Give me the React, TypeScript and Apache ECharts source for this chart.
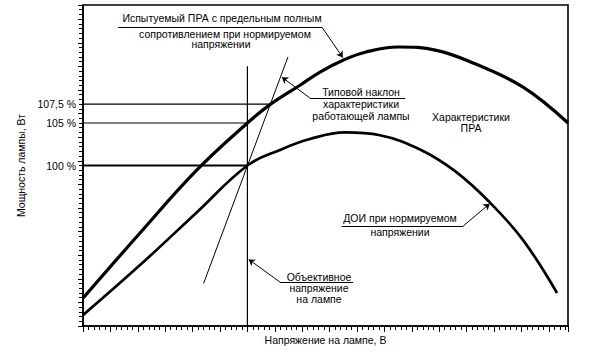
import React, { useEffect, useRef } from "react";
import * as echarts from "echarts";

// Axis extents (arbitrary schematic units; one unit = one minor tick)
const xMax = 88.5;
const yMax = 68;

// Upper curve: tested ballast with limiting impedance at rated voltage
const upperX = [0, 10.4, 20.75, 30, 34.12, 39.6, 43.25, 47.45, 51.5, 57.5, 64.5, 71.2, 80.3, 88.5];
const upperY = [5.9, 19.7, 33.0, 43.0, 46.9, 51.0, 53.8, 56.3, 58.0, 59.1, 58.4, 55.7, 50.6, 43.0];

// Lower curve: reference ballast at rated voltage
const lowerX = [0, 10.4, 20.6, 30, 35.95, 41.4, 47.8, 54.2, 61.5, 67.9, 74.3, 80.3, 86.5];
const lowerY = [2.3, 12.9, 23.9, 34, 37.3, 39.6, 41.0, 40.4, 37.4, 32.8, 26.1, 18.2, 7.0];

// Typical lamp slope line
const slopeX = [22.0, 37.4];
const slopeY = [9.0, 57.0];

// Objective lamp voltage
const objectiveX = 30;
const objectiveTop = 55;

// Power levels
const levelValues = [34, 43, 47];
const levelLabels = ["100 %", "105 %", "107,5 %"];
const levelEnds = [30, 30, 34.2];

// Annotation leader lines: underline start, underline end, arrow tip
const leaderUnder = [
  [[6.4, 63.3], [43.6, 63.3]],
  [[41.4, 48.3], [58.8, 48.3]],
  [[47.2, 21.2], [69.4, 21.2]],
  [[35.95, 9.3], [49.3, 9.3]],
];
const leaderArrow = [
  [[43.6, 63.3], [47.4, 56.9]],
  [[41.4, 48.3], [36.3, 52.7]],
  [[69.4, 21.2], [74.2, 25.9]],
  [[35.95, 9.3], [30.25, 14.1]],
];

const annTested = ["Испытуемый ПРА с предельным полным", "сопротивлением при нормируемом", "напряжении"];
const annSlope = ["Типовой наклон", "характеристики", "работающей лампы"];
const annBallast = ["Характеристики", "ПРА"];
const annLamp = ["ДОИ при нормируемом", "напряжении"];
const annObjective = ["Объективное", "напряжение", "на лампе"];

const xName = "Напряжение на лампе, В";
const yName = "Мощность лампы, Вт";

const FONT = "Liberation Sans, Arial, sans-serif";

function zip(xs: number[], ys: number[]) {
  return xs.map((x, i) => [x, ys[i]]);
}

export default function App() {
  const ref = useRef<HTMLDivElement>(null);

  useEffect(() => {
    if (!ref.current) return;
    const chart = echarts.init(ref.current, null, { renderer: "svg" });

    const textStyle = { fontFamily: FONT, fontSize: 10.5, color: "#000" };

    const mkText = (lines: string[], x: number | number[], ys: number[]) =>
      lines.map((t, i) => ({
        type: "text",
        x: Array.isArray(x) ? x[i] : x,
        y: ys[i],
        silent: true,
        style: {
          text: t,
          fill: "#000",
          font: `10.5px ${FONT}`,
          align: "center",
          verticalAlign: "middle",
          textAlign: "center",
          textVerticalAlign: "middle",
        },
      }));

    const blackLine = (w: number) => ({ color: "#000", width: w });

    const option: any = {
      animation: false,
      backgroundColor: "#fff",
      grid: {
        left: 83,
        right: 22,
        top: 5,
        bottom: 31,
        show: true,
        borderColor: "#000",
        borderWidth: 1.6,
        backgroundColor: "transparent",
      },
      xAxis: {
        type: "value",
        min: 0,
        max: xMax,
        interval: 5,
        name: xName,
        nameLocation: "middle",
        nameGap: 8,
        nameTextStyle: textStyle,
        axisLine: { lineStyle: blackLine(1.5) },
        axisTick: { length: 6, lineStyle: blackLine(1) },
        minorTick: { show: true, splitNumber: 5, length: 4, lineStyle: blackLine(1) },
        axisLabel: { show: false },
        splitLine: { show: false },
      },
      yAxis: {
        type: "value",
        min: 0,
        max: yMax,
        interval: 5,
        name: yName,
        nameLocation: "middle",
        nameGap: 46,
        nameTextStyle: textStyle,
        axisLine: { lineStyle: blackLine(1.5) },
        axisTick: { length: 5, lineStyle: blackLine(1) },
        minorTick: { show: true, splitNumber: 5, length: 4, lineStyle: blackLine(1) },
        axisLabel: {
          ...textStyle,
          margin: 7,
          customValues: levelValues,
          formatter: (v: number) => {
            const i = levelValues.indexOf(v);
            return i >= 0 ? levelLabels[i] : "";
          },
        },
        splitLine: { show: false },
      },
      series: [
        {
          type: "line",
          data: zip(upperX, upperY),
          smooth: 0.4,
          symbol: "none",
          lineStyle: blackLine(3.2),
          silent: true,
        },
        {
          type: "line",
          data: zip(lowerX, lowerY),
          smooth: 0.4,
          symbol: "none",
          lineStyle: blackLine(2.7),
          silent: true,
        },
        {
          type: "line",
          data: zip(slopeX, slopeY),
          symbol: "none",
          lineStyle: blackLine(1),
          silent: true,
        },
        {
          type: "line",
          data: [
            [objectiveX, 0],
            [objectiveX, objectiveTop],
          ],
          symbol: "none",
          lineStyle: blackLine(1.2),
          silent: true,
        },
        ...levelValues.map((v, i) => ({
          type: "line",
          data: [
            [0, v],
            [levelEnds[i], v],
          ],
          symbol: "none",
          lineStyle: blackLine(i === 0 ? 1.8 : 1.1),
          silent: true,
        })),
        {
          type: "lines",
          coordinateSystem: "cartesian2d",
          data: leaderUnder.map((c) => ({ coords: c })),
          symbol: "none",
          lineStyle: { color: "#000", width: 1, opacity: 1 },
          silent: true,
        },
        {
          type: "lines",
          coordinateSystem: "cartesian2d",
          data: leaderArrow.map((c) => ({ coords: c })),
          symbol: ["none", "arrow"],
          symbolSize: [0, 6],
          lineStyle: { color: "#000", width: 1, opacity: 1 },
          itemStyle: { color: "#000" },
          silent: true,
        },
      ],
      graphic: [
        ...mkText(annTested, [222, 225, 221], [17.5, 33.5, 44]),
        ...mkText(annSlope, 361, [91.5, 103.5, 116]),
        ...mkText(annBallast, 471, [116.5, 127.5]),
        ...mkText(annLamp, 400, [218, 231.5]),
        ...mkText(annObjective, 319, [276.5, 287.5, 298.5]),
      ],
    };

    chart.setOption(option);
    return () => chart.dispose();
  }, []);

  return (
    <div
      ref={ref}
      style={{ position: "fixed", left: 0, top: 0, width: 590, height: 357, background: "#fff" }}
    />
  );
}
